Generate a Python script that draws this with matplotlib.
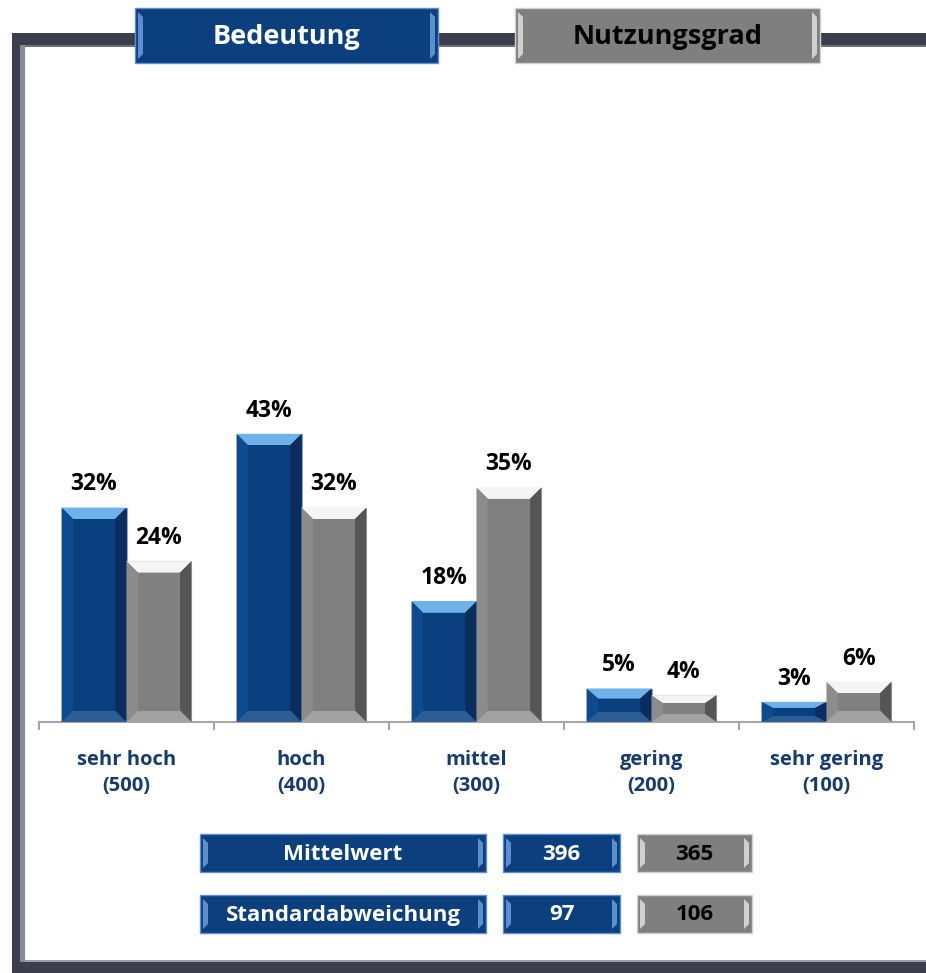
import numpy as np
import matplotlib
matplotlib.use("Agg")
import matplotlib.pyplot as plt
from matplotlib.patches import Rectangle, Polygon

plt.rcParams['font.family'] = ['Open Sans', 'DejaVu Sans']

# survey answers (share of respondents in %)
categories = ["sehr hoch\n(500)", "hoch\n(400)", "mittel\n(300)", "gering\n(200)", "sehr gering\n(100)"]
bedeutung = [32, 43, 18, 5, 3]
nutzungsgrad = [24, 32, 35, 4, 6]
series_names = ["Bedeutung", "Nutzungsgrad"]

stat_names = ["Mittelwert", "Standardabweichung"]
stat_bedeutung = [396, 97]
stat_nutzung = [365, 106]

BLUE = "#0b3f7e"
GRAY = "#7f7f7f"
LABEL_BLUE = "#163c6e"
FRAME = "#3b3f4d"

W, H = 926, 973
fig = plt.figure(figsize=(W / 100, H / 100), dpi=100)

# pixel-space overlay for frame, legend and statistic boxes
bg = fig.add_axes([0, 0, 1, 1])
bg.set_xlim(0, W)
bg.set_ylim(H, 0)
bg.axis("off")

# frame
bg.add_patch(Rectangle((12, 33), W - 12, 12, color=FRAME, lw=0))
bg.add_patch(Rectangle((12, 33), 13, H - 33, color=FRAME, lw=0))
bg.add_patch(Rectangle((12, 962), W - 12, 11, color=FRAME, lw=0))
bg.add_patch(Rectangle((20, 45), 5, 917, color="#868a98", lw=0))
bg.add_patch(Rectangle((25, 45), W - 25, 2, color="#6d717f", lw=0))
bg.add_patch(Rectangle((25, 960), W - 25, 2, color="#9a9dab", lw=0))


def bevel_box(x0, y0, w, h, face, edge_light, text, tcolor, size):
    bg.add_patch(Rectangle((x0, y0), w, h, facecolor=face,
                           edgecolor=edge_light, lw=1.0, zorder=3))
    s = 5
    for xs in (x0 + 3, x0 + w - 3 - s):
        bg.add_patch(Polygon([(xs, y0 + 4), (xs + s, y0 + 9),
                              (xs + s, y0 + h - 9), (xs, y0 + h - 4)],
                             closed=True, facecolor=edge_light, lw=0, zorder=4))
    bg.text(x0 + w / 2, y0 + h / 2 + 1, text, color=tcolor, fontsize=size,
            fontweight="bold", ha="center", va="center", zorder=5)


# series legend at the top
bevel_box(135, 8, 303, 55, BLUE, "#5b8fcf", series_names[0], "white", 19.5)
bevel_box(515, 8, 305, 55, GRAY, "#d0d0d0", series_names[1], "black", 19.5)

# statistics table
row_y = [834, 895]
for i, name in enumerate(stat_names):
    bevel_box(200, row_y[i], 286, 38, BLUE, "#5b8fcf", name, "white", 16)
    bevel_box(503, row_y[i], 117, 38, BLUE, "#5b8fcf", str(stat_bedeutung[i]), "white", 16)
    bevel_box(637, row_y[i], 115, 38, GRAY, "#d0d0d0", str(stat_nutzung[i]), "black", 16)

# bar chart
ax = fig.add_axes([39 / W, (H - 722) / H, 875 / W, 335 / H])
ax.patch.set_alpha(0)
x = np.arange(len(categories))
bw = 0.371
bars_b = ax.bar(x - bw, bedeutung, bw, align="edge", color=BLUE,
                edgecolor="#8ea6c6", lw=0.8, zorder=2)
bars_n = ax.bar(x, nutzungsgrad, bw, align="edge", color=GRAY,
                edgecolor="#b5b5b5", lw=0.8, zorder=2)

bx, by_max = 0.065, 1.7


def bevel_bar(bar, top, left, right, bottom, face):
    x0 = bar.get_x()
    x1 = x0 + bar.get_width()
    h = bar.get_height()
    by = min(by_max, h * 0.3)
    pieces = [
        ([(x0, h), (x1, h), (x1 - bx, h - by), (x0 + bx, h - by)], top),
        ([(x1, h), (x1, 0), (x1 - bx, by), (x1 - bx, h - by)], right),
        ([(x0, h), (x0, 0), (x0 + bx, by), (x0 + bx, h - by)], left),
        ([(x0, 0), (x1, 0), (x1 - bx, by), (x0 + bx, by)], bottom),
        ([(x0 + bx, by), (x1 - bx, by), (x1 - bx, h - by), (x0 + bx, h - by)], face),
    ]
    for pts, c in pieces:
        ax.add_patch(Polygon(pts, closed=True, facecolor=c, lw=0, zorder=3))


for b in bars_b:
    bevel_bar(b, "#6fb2ea", "#0e4a8f", "#0a2d5e", "#2d5d95", "#0a3f7f")
for b in bars_n:
    bevel_bar(b, "#f4f4f4", "#8c8c8c", "#555555", "#a2a2a2", "#808080")

for bars, vals in ((bars_b, bedeutung), (bars_n, nutzungsgrad)):
    for b, v in zip(bars, vals):
        ax.annotate(f"{v}%", (b.get_x() + b.get_width() / 2, v),
                    xytext=(0, 8), textcoords="offset points",
                    ha="center", va="bottom", fontsize=16.5, fontweight="bold")

ax.set_xlim(-0.5, len(categories) - 0.5)
ax.set_ylim(0, 50)
for s in ("top", "right", "left"):
    ax.spines[s].set_visible(False)
ax.spines["bottom"].set_color("#a6a6a6")
ax.spines["bottom"].set_linewidth(1.5)
ax.set_yticks([])
ax.set_xticks(np.arange(len(categories) + 1) - 0.5)
ax.set_xticklabels([])
ax.tick_params(axis="x", length=6, width=1.5, color="#a6a6a6", direction="out")
for xi, cat in zip(x, categories):
    ax.annotate(cat, (xi, 0), xytext=(0, -20), textcoords="offset points",
                ha="center", va="top", fontsize=14.5, fontweight="bold",
                color=LABEL_BLUE, linespacing=1.4)

fig.savefig("out.png", dpi=100)
